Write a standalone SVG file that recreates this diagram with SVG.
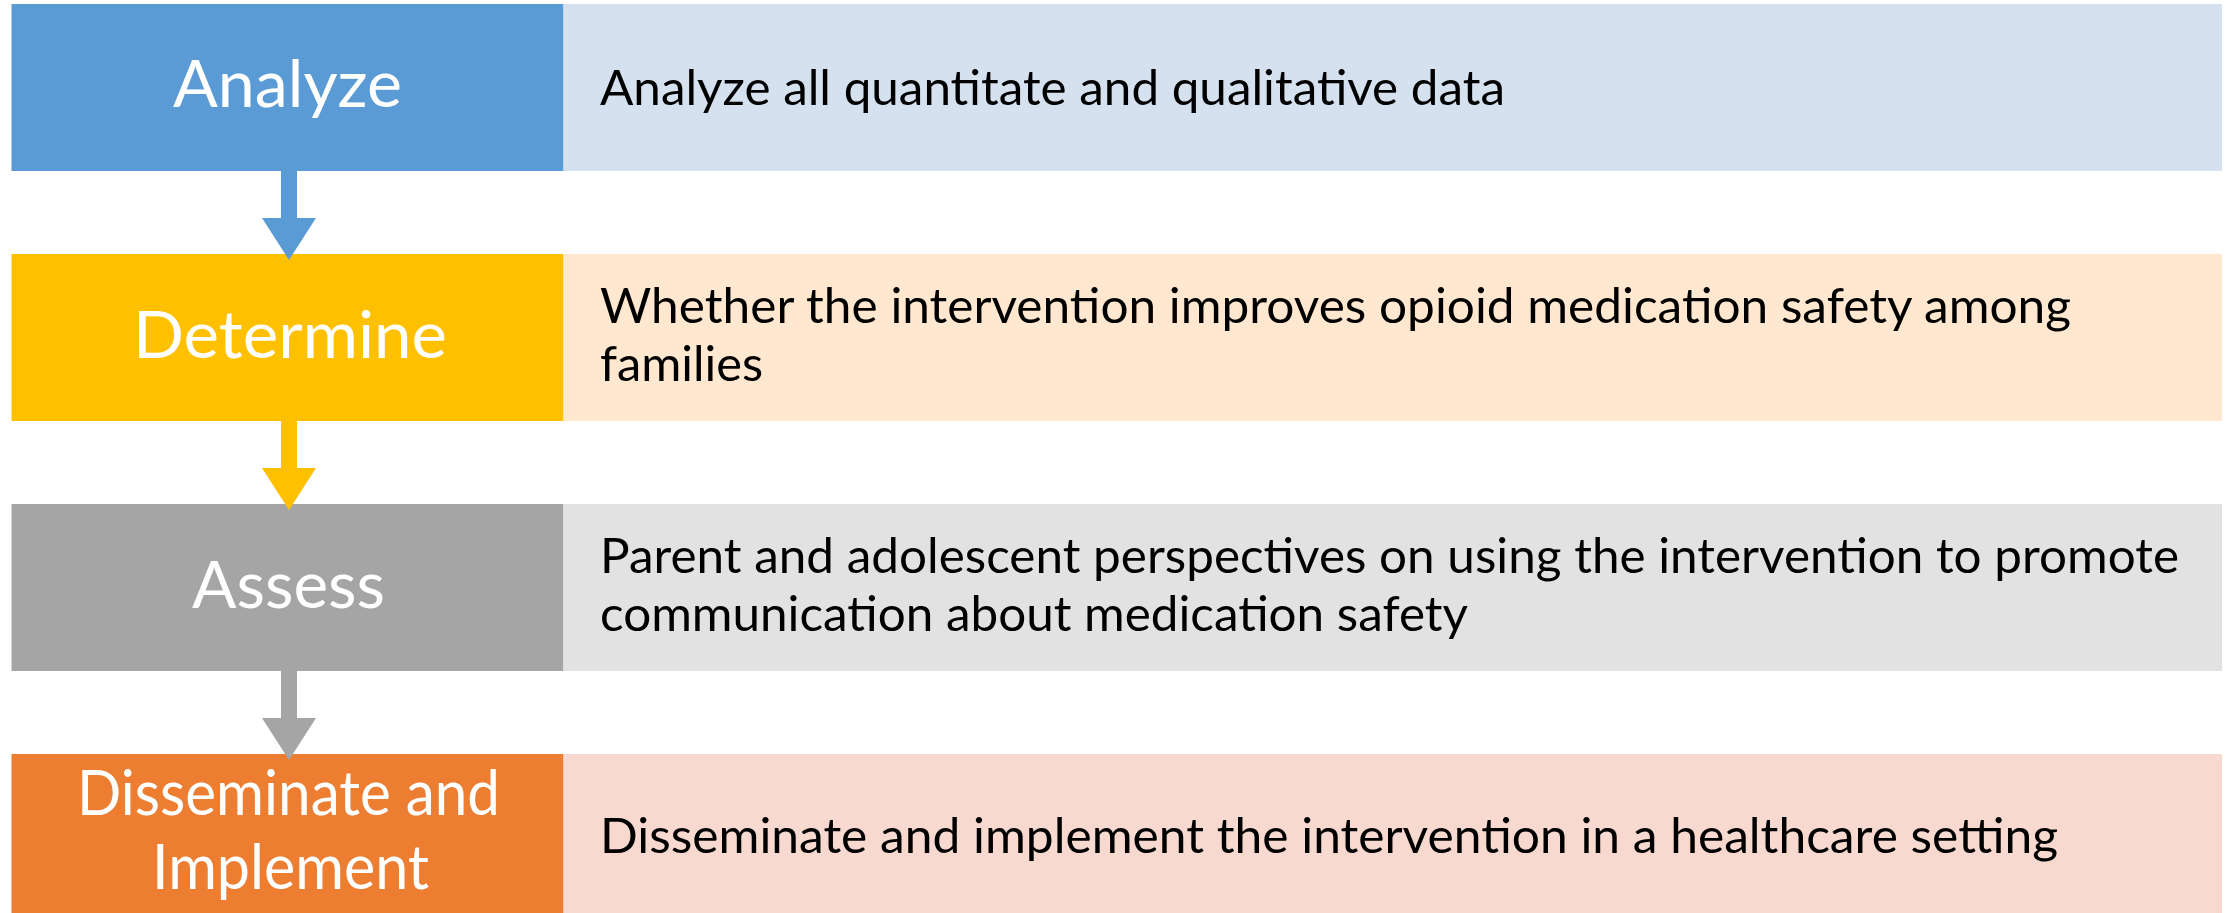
<svg xmlns="http://www.w3.org/2000/svg" width="2233" height="913" viewBox="0 0 2233 913">
<style>
  .lbl{font-family:Lato,"Liberation Sans",sans-serif;font-size:66px;fill:#FFFFFF}
  .lbl2{font-family:Lato,"Liberation Sans",sans-serif;font-size:61px;fill:#FFFFFF}
  .desc{font-family:Lato,"Liberation Sans",sans-serif;font-size:49px;fill:#000000}
</style>
<rect x="0" y="0" width="2233" height="913" fill="#FFFFFF"/>
<g id="node-analyze">
  <rect x="11.5" y="4" width="552" height="167" fill="#5B9BD5"/>
  <rect x="563.5" y="4" width="1658.5" height="167" fill="#D6E1EF"/>
  <text class="lbl" x="173" y="107" textLength="229" lengthAdjust="spacingAndGlyphs">Analyze</text>
  <text class="desc" x="600" y="105" textLength="905" lengthAdjust="spacingAndGlyphs">Analyze all quantitate and qualitative data</text>
</g>
<g id="node-determine">
  <rect x="11.5" y="254" width="552" height="167" fill="#FFC000"/>
  <rect x="563.5" y="254" width="1658.5" height="167" fill="#FFE8CF"/>
  <text class="lbl" x="133" y="357.5" textLength="314" lengthAdjust="spacingAndGlyphs">Determine</text>
  <text class="desc"><tspan x="600" y="323" textLength="1471" lengthAdjust="spacingAndGlyphs">Whether the intervention improves opioid medication safety among</tspan><tspan x="600" y="381" textLength="163" lengthAdjust="spacingAndGlyphs">families</tspan></text>
</g>
<g id="node-assess">
  <rect x="11.5" y="504" width="552" height="167" fill="#A5A5A5"/>
  <rect x="563.5" y="504" width="1658.5" height="167" fill="#E2E2E2"/>
  <text class="lbl" x="192" y="607.5" textLength="193" lengthAdjust="spacingAndGlyphs">Assess</text>
  <text class="desc"><tspan x="600" y="573" textLength="1579" lengthAdjust="spacingAndGlyphs">Parent and adolescent perspectives on using the intervention to promote</tspan><tspan x="600" y="631" textLength="868" lengthAdjust="spacingAndGlyphs">communication about medication safety</tspan></text>
</g>
<g id="node-disseminate">
  <rect x="11.5" y="754" width="552" height="167" fill="#ED7D31"/>
  <rect x="563.5" y="754" width="1658.5" height="167" fill="#F7D9CF"/>
  <text class="lbl2"><tspan x="77" y="815" textLength="423" lengthAdjust="spacingAndGlyphs">Disseminate and</tspan><tspan x="152" y="888.5" textLength="277" lengthAdjust="spacingAndGlyphs">Implement</tspan></text>
  <text class="desc" x="600" y="853" textLength="1458" lengthAdjust="spacingAndGlyphs">Disseminate and implement the intervention in a healthcare setting</text>
</g>
<g id="connectors">
  <g fill="#5B9BD5">
    <rect x="281" y="170" width="16" height="49"/>
    <polygon points="262,218 316,218 289,260"/>
  </g>
  <g fill="#FFC000">
    <rect x="281" y="420" width="16" height="49"/>
    <polygon points="262,468 316,468 289,510"/>
  </g>
  <g fill="#A5A5A5">
    <rect x="281" y="670" width="16" height="49"/>
    <polygon points="262,718 316,718 289,760"/>
  </g>
</g>
</svg>
